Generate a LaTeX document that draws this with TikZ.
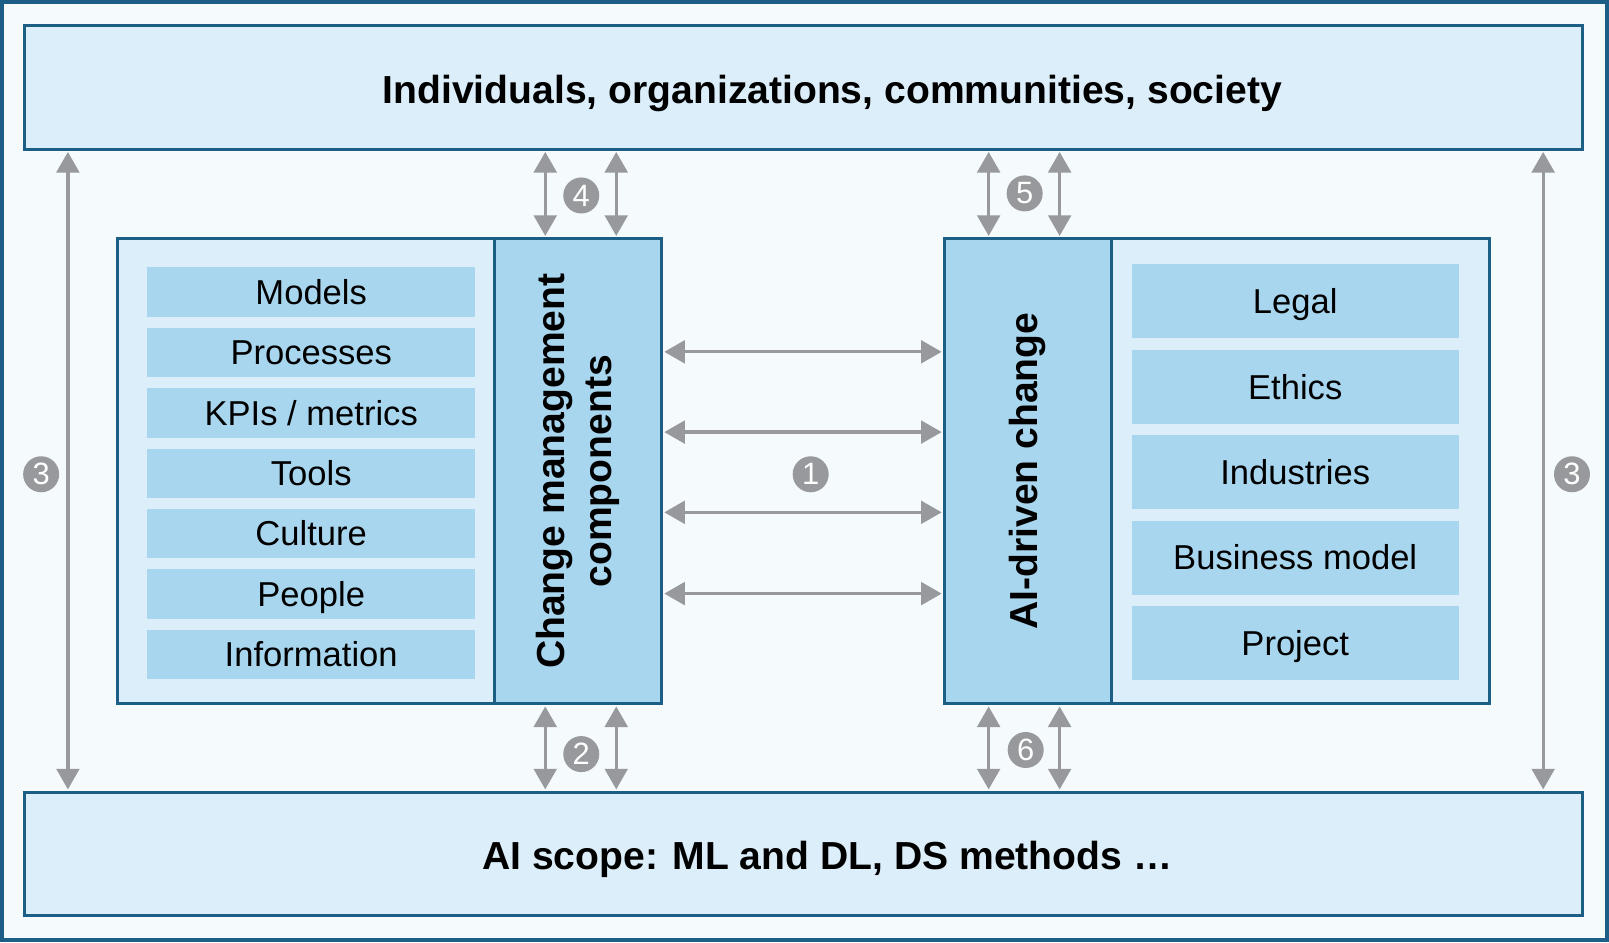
\documentclass[tikz,border=0pt]{standalone}
\usepackage{fontspec}
\setmainfont{Liberation Sans}
\usetikzlibrary{arrows.meta,calc}
\definecolor{dkblue}{HTML}{1D5E86}
\definecolor{ltblue}{HTML}{DCEEF9}
\definecolor{mdblue}{HTML}{A8D6EE}
\definecolor{bgblue}{HTML}{F5FAFD}
\definecolor{arrgray}{HTML}{97999C}
\begin{document}
\begin{tikzpicture}[x=0.5pt,y=-0.5pt,
  bigbox/.style={draw=dkblue, line width=1.5pt, fill=ltblue, inner sep=0pt,
    minimum width=757pt, minimum height=60pt},
  bigtext/.style={inner sep=0pt, text height=13.6pt, text depth=0pt,
    font=\fontsize{19}{23}\selectfont\bfseries},
  panel/.style={draw=dkblue, line width=1.5pt, fill=ltblue, inner sep=0pt,
    minimum width=184pt, minimum height=226pt},
  sidebar/.style={draw=dkblue, line width=1.5pt, fill=mdblue, inner sep=0pt,
    minimum width=81pt, minimum height=226pt},
  vtext/.style={rotate=90, align=center, font=\fontsize{19}{23}\selectfont\bfseries},
  litem/.style={fill=mdblue, inner sep=0pt, minimum width=159.5pt, minimum height=24pt,
    text height=12pt, text depth=0pt, font=\fontsize{16.8}{20}\selectfont},
  ritem/.style={fill=mdblue, inner sep=0pt, minimum width=159pt, minimum height=36pt,
    text height=12pt, text depth=0pt, font=\fontsize{16.8}{20}\selectfont},
  dbl/.style={draw=arrgray, line width=1.6pt, {Triangle[length=10pt,width=11pt]}-{Triangle[length=10pt,width=11pt]}, shorten <=0.6pt, shorten >=0.6pt},
  num/.style={circle, fill=arrgray, text=white, inner sep=0pt, minimum size=17.5pt,
    font=\fontsize{15}{15}\selectfont}
]
\useasboundingbox (0,0) rectangle (1564,916);
\fill[bgblue] (0,0) rectangle (1564,916);
\draw[dkblue, line width=2pt] (2,2) rectangle (1562,914);

% top and bottom boxes
\node[bigbox] (top) at (781,85) {};
\node[bigtext] (toptxt) at ($(top.center)+(28,2)$) {Individuals, organizations, communities, society};
\node[bigbox] (bot) at (781,830) {};
\node[bigtext] (bottxt) at ($(bot.center)+(23,2)$) {AI scope: ML and DL, DS methods \dots};

% left panel
\node[panel, minimum width=183.5pt] (lp) at (297.5,458) {};
\node[sidebar] (cm) at (562,458) {};
\node[vtext] (cmt) at (cm.center) {Change management\\components};
\node[litem] (l1) at (302.5,284) {Models};
\node[litem] (l2) at (302.5,342.7) {Processes};
\node[litem] (l3) at (302.5,401.3) {KPIs / metrics};
\node[litem] (l4) at (302.5,460) {Tools};
\node[litem] (l5) at (302.5,518.7) {Culture};
\node[litem] (l6) at (302.5,577.3) {People};
\node[litem] (l7) at (302.5,636) {Information};

% right panel
\node[sidebar] (ai) at (999,458) {};
\node[panel] (rp) at (1264,458) {};
\node[vtext] (ait) at (ai.center) {AI-driven change};
\node[ritem] (r1) at (1259,293) {Legal};
\node[ritem] (r2) at (1259,376) {Ethics};
\node[ritem] (r3) at (1259,459) {Industries};
\node[ritem] (r4) at (1259,542) {Business model};
\node[ritem] (r5) at (1259,625) {Project};

% horizontal arrows
\foreach \yy in {342,420,498,577}{
  \draw[dbl] (cm.east |- 0,\yy) -- (ai.west |- 0,\yy);
}
\node[num] (n1) at (788,461) {1};

% outer vertical arrows
\draw[dbl] (top.south -| 66,0) -- (bot.north -| 66,0);
\draw[dbl] (top.south -| 1500,0) -- (bot.north -| 1500,0);
\node[num] (n3a) at (40,461) {3};
\node[num] (n3b) at (1528,461) {3};

% arrows 4 and 2
\draw[dbl] (top.south -| 530,0) -- (cm.north -| 530,0);
\draw[dbl] (top.south -| 599,0) -- (cm.north -| 599,0);
\node[num] (n4) at (565,190) {4};
\draw[dbl] (cm.south -| 530,0) -- (bot.north -| 530,0);
\draw[dbl] (cm.south -| 599,0) -- (bot.north -| 599,0);
\node[num] (n2) at (565,733) {2};

% arrows 5 and 6
\draw[dbl] (top.south -| 961,0) -- (ai.north -| 961,0);
\draw[dbl] (top.south -| 1030,0) -- (ai.north -| 1030,0);
\node[num] (n5) at (996,188) {5};
\draw[dbl] (ai.south -| 961,0) -- (bot.north -| 961,0);
\draw[dbl] (ai.south -| 1030,0) -- (bot.north -| 1030,0);
\node[num] (n6) at (997,729) {6};
\end{tikzpicture}
\end{document}
